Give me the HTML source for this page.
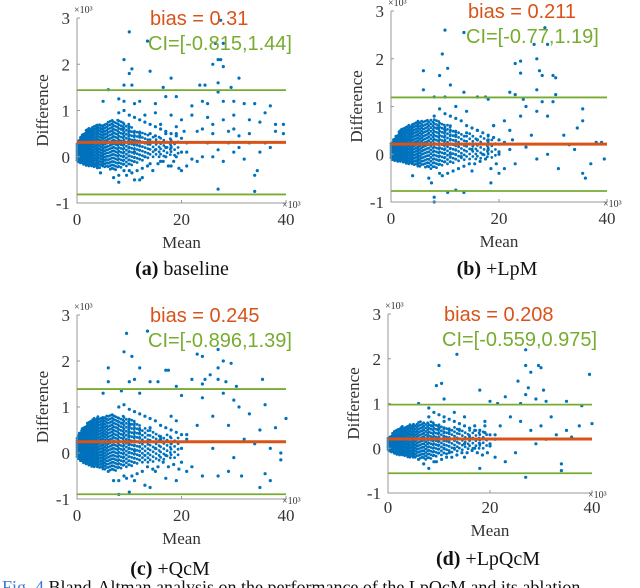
<!DOCTYPE html>
<html><head><meta charset="utf-8">
<style>
html,body{margin:0;padding:0;background:#fff;width:640px;height:588px;overflow:hidden}
svg{display:block}
.tk{font-family:"Liberation Serif",serif;font-size:17px;fill:#333}
.cap{font-family:"Liberation Serif",serif;font-size:20px;fill:#111}
.st{font-family:"Liberation Sans",sans-serif;font-size:20px}
</style></head>
<body>
<svg id="fig" width="640" height="588" viewBox="0 0 640 588" xmlns="http://www.w3.org/2000/svg">
<text x="2" y="593" class="cap" style="font-size:18px"><tspan fill="#3a7bd5">Fig. 4</tspan> Bland-Altman analysis on the performance of the LpQcM and its ablation</text>
</svg>
<script>
// ---- data (values in ×10³) ----
const biasA = 0.31,  ciA = [-0.815, 1.44];
const biasB = 0.211, ciB = [-0.77, 1.19];
const biasC = 0.245, ciC = [-0.896, 1.39];
const biasD = 0.208, ciD = [-0.559, 0.975];
const yTicks = [-1, 0, 1, 2, 3];
const xTicks = [0, 20, 40];
const clusterX = [0,1,2,3,4,5,6,7,8,9,10,11,12,14,16,18,20];
const clusterLoA = [-0.1,-0.15,-0.2,-0.2,-0.25,-0.2,-0.25,-0.3,-0.25,-0.2,-0.2,-0.15,-0.1,0,0,0.05,0];
const clusterHiA = [0.3,0.5,0.6,0.65,0.7,0.7,0.75,0.8,0.8,0.75,0.7,0.6,0.55,0.45,0.45,0.4,0.35];
const clusterLoB = [-0.1,-0.15,-0.15,-0.2,-0.2,-0.25,-0.25,-0.3,-0.3,-0.25,-0.2,-0.2,-0.15,-0.1,-0.1,-0.05,-0.1];
const clusterHiB = [0.25,0.4,0.55,0.6,0.65,0.7,0.7,0.75,0.75,0.7,0.65,0.6,0.5,0.45,0.4,0.4,0.3];
const clusterLoC = [-0.1,-0.2,-0.25,-0.3,-0.3,-0.35,-0.35,-0.4,-0.35,-0.3,-0.3,-0.25,-0.2,-0.2,-0.15,-0.1,-0.1];
const clusterHiC = [0.35,0.55,0.65,0.75,0.8,0.8,0.85,0.85,0.8,0.8,0.75,0.7,0.6,0.5,0.45,0.4,0.35];
const clusterLoD = [-0.05,-0.1,-0.15,-0.15,-0.2,-0.2,-0.2,-0.25,-0.25,-0.2,-0.15,-0.15,-0.1,-0.05,0,0,0];
const clusterHiD = [0.25,0.35,0.45,0.5,0.55,0.55,0.6,0.6,0.6,0.6,0.55,0.5,0.5,0.45,0.4,0.4,0.35];
const midMean = [8,9,10,11,12,13,14,15,16,17,18,19,20,21,9.5,10.5,11.5,12.5,13.5,14.5,15.5,16.5,17.5,18.5,19.5,8.5,10,12,14,16,18,20,11,13,15,17,19,7,9,21];
const midDiffA = [0.95,1.0,0.9,0.85,0.8,0.75,0.7,0.65,0.6,0.55,0.5,0.45,0.4,0.3,-0.4,-0.35,-0.3,-0.25,-0.2,-0.3,-0.15,-0.1,-0.2,-0.1,-0.25,0.6,0.55,0.45,0.5,0.3,0.2,0.1,0.1,0.0,0.15,0.0,0.65,-0.45,-0.3,-0.2];
const midDiffB = [0.8,0.95,0.85,0.8,0.75,0.7,0.6,0.55,0.5,0.45,0.4,0.35,0.3,0.25,-0.45,-0.4,-0.35,-0.3,-0.25,-0.2,-0.2,-0.15,-0.1,-0.3,-0.2,0.55,0.5,0.4,0.45,0.3,0.1,0.05,0.0,-0.05,0.1,0.0,0.6,-0.5,-0.4,-0.3];
const midDiffC = [1.0,1.05,0.95,0.9,0.85,0.8,0.75,0.7,0.6,0.55,0.5,0.45,0.4,0.3,-0.55,-0.5,-0.45,-0.4,-0.3,-0.35,-0.3,-0.2,-0.3,-0.25,-0.35,0.65,0.6,0.5,0.55,0.35,0.2,0.1,0.05,-0.05,0.1,-0.05,0.7,-0.6,-0.5,-0.4];
const midDiffD = [0.7,0.8,0.75,0.7,0.65,0.6,0.55,0.5,0.45,0.4,0.4,0.35,0.3,0.2,-0.3,-0.25,-0.2,-0.2,-0.15,-0.1,-0.1,-0.05,-0.1,-0.15,-0.1,0.5,0.45,0.4,0.4,0.25,0.1,0.05,0.0,0.0,0.1,0.0,0.5,-0.35,-0.3,-0.2];
const meanA = [10,13.5,9,10,10.5,14,9,10.5,18,16.5,23.5,24.5,26,27,27.5,28,27,29.5,31,27,26.5,28,27.5,6,5,8,9,11,12,15,17,19,22,24,25,28,30,32,34,37,36,33,35,38,39.5,39.5,38,30,28,25,22,20,18,16,15,13,20.5,24,26,29,31,33,35,37,34,34.5,34,27,30,32,28,26,24,22,20,18,16,14,12,12.5,11,8,8,4.5,10,23,21,19,17,25,27,29,31,33,36,30,26,23,19,17,15,13];
const diffA = [2.7,2.5,2.1,1.8,1.9,1.85,1.55,1.55,1.7,1.5,1.55,1.55,2.0,2.1,2.1,1.95,1.6,1.5,1.7,1.4,2.45,2.45,2.95,1.45,1.2,1.25,1.2,1.15,1.2,1.15,1.3,1.3,1.1,1.2,1.15,1.2,1.2,1.15,1.15,1.1,0.95,0.8,0.75,0.7,0.7,0.5,0.55,0.9,0.8,0.85,0.9,0.8,0.9,0.7,0.95,0.9,0.55,0.6,0.5,0.55,0.45,0.3,0.1,0.2,-0.4,-0.3,-0.75,-0.7,0.1,-0.05,-0.1,0.0,0.0,-0.05,-0.3,-0.2,-0.1,-0.15,-0.5,-0.45,-0.5,-0.55,-0.4,-0.35,-0.3,-0.1,0.1,0.0,0.2,0.3,0.15,0.3,0.2,0.5,0.3,0.6,0.7,0.55,0.5,0.5,0.45,0.3];
const meanB = [10,13.5,9.5,9,10.5,6,23,24,24,27,27.5,28,30,30.5,26.5,28.5,29,6,8,10,11,13.5,16,17.5,18,22,23,24.5,27,28,30.5,30,35.5,34.5,35.5,38,39,39.5,37,36,35.5,31,29,27,25,23,22,20,18.5,15,12,13.5,10.5,8,8,7.5,4,19,21,22,24,25,27,29,26,32,33,34,18,16,14,12,20,22.5];
const diffB = [2.6,2.55,2.1,1.65,1.8,1.75,1.9,1.95,1.7,2.0,1.75,1.65,1.65,1.6,2.3,2.65,2.3,1.35,1.2,1.2,1.45,1.3,1.2,1.2,1.15,1.3,1.25,1.15,1.35,1.1,1.25,1.1,0.95,0.55,0.7,0.25,0.25,-0.1,-0.2,-0.5,-0.4,-0.3,0.0,-0.1,0.15,-0.2,0.1,-0.4,-0.6,-0.35,-0.75,-0.8,-0.8,-1.0,-0.9,-0.6,-0.45,0.6,0.7,0.5,0.8,1.0,0.9,0.8,0.4,0.4,0.2,0.1,0.3,0.5,0.9,1.0,0.0,0.3];
const meanC = [9.5,13.5,9,10.5,6,12,17,17.5,23,24,27,28,29.5,27,24.5,22,24,25.5,27,28.5,30.5,35.5,6,10,11,14,15.5,19,5,8.5,12,20,24,28,30,31,36,33,40,38,35,37,39,39,36,37,35,31.5,29,27,24,22,19,17,15,14,13,10,8,8,6,11,21,23,26,29,32,34,30,26,18,16,20];
const diffC = [2.6,2.65,2.2,2.1,1.85,1.85,1.8,1.8,2.15,2.1,2.25,2.0,1.95,1.85,1.6,1.6,1.5,1.7,1.6,1.55,1.45,1.6,1.55,1.55,1.6,1.55,1.55,1.45,1.3,1.35,1.3,1.25,1.2,1.3,1.15,1.0,1.05,0.85,0.75,0.55,0.5,0.1,0.0,-0.15,-0.45,-0.6,-0.75,-0.5,-0.4,-0.5,-0.5,-0.3,-0.6,-0.55,-0.4,-0.75,-0.7,-0.85,-0.9,-0.6,-0.4,-0.6,0.4,0.6,0.8,0.6,0.3,0.2,-0.1,0.1,0.8,0.3,-0.2];
const meanD = [13.5,10,9.5,10.5,18,11,20,21.5,23,27,27,28,29.5,30,27.5,27,26,25.5,30.5,29,31,35,38,39.5,40,37.5,35,36,33,34,34,27,25,23,20,18,15,12,8,6,17,19,22,24,26,28,30,32,31,29,21,15,13,11,6,8];
const diffD = [2.1,1.85,1.4,1.45,1.3,1.1,1.05,1.0,1.15,2.2,1.85,1.7,1.85,1.8,1.35,1.2,1.0,1.5,1.3,1.1,1.05,1.05,0.95,1.65,0.55,0.5,0.4,0.25,0.3,-0.35,-0.5,-0.65,-0.1,-0.3,0.1,-0.45,-0.2,-0.1,-0.45,-0.25,0.5,0.6,0.5,0.7,0.6,0.4,0.5,0.7,0.2,0.1,0.3,0.7,0.8,0.6,1.0,0.9];

const NS='http://www.w3.org/2000/svg';
const svg=document.getElementById('fig');
function el(tag,attrs,parent){const e=document.createElementNS(NS,tag);for(const k in attrs)e.setAttribute(k,attrs[k]);(parent||svg).appendChild(e);return e;}

function panel(id,g,mean,diff,midD,cLo,cHi,bias,ci,cap1,cap2){
  const grp=el('g',{});
  
  
  const sx=v=>g.x0+v/40*(g.x1-g.x0);
  const sy=v=>g.y3+(3-v)/4*(g.ym1-g.y3);
  const cg=el('g',{fill:'#0072BD'},grp);
  
  
  for(let i=0;i<clusterX.length-1;i++){
    const xs=0.22+0.025*clusterX[i], ys=0.05+0.004*clusterX[i];
    let row=0;
    for(let x=clusterX[i];x<clusterX[i+1];x+=xs){
      const t=(x-clusterX[i])/(clusterX[i+1]-clusterX[i]);
      const lo=cLo[i]+t*(cLo[i+1]-cLo[i]), hi=cHi[i]+t*(cHi[i+1]-cHi[i]);
      row++;
      for(let y=lo+(row%2)*ys/2;y<=hi;y+=ys){el('circle',{cx:sx(x).toFixed(1),cy:sy(y).toFixed(1),r:1.4},cg);}
    }
  }
  const pg=el('g',{fill:'#0072BD'},grp);
  
  
  for(let i=0;i<mean.length;i++){
    const c=el('circle',{cx:sx(mean[i]).toFixed(1),cy:sy(diff[i]).toFixed(1),r:1.6},pg);
    
    
  }
  for(let i=0;i<midMean.length;i++){
    const c=el('circle',{cx:sx(midMean[i]).toFixed(1),cy:sy(midD[i]).toFixed(1),r:1.6},pg);
    
    
  }
  const ax=el('path',{d:`M${g.x0},${g.y3} V${g.ym1} H${g.x1}`,stroke:'#999',fill:'none','stroke-width':1},grp);
  
  
  xTicks.forEach(v=>{
    el('line',{x1:sx(v),x2:sx(v),y1:g.ym1,y2:g.ym1-3,stroke:'#999'},grp);
    const t=el('text',{x:sx(v),y:g.ym1+g.xl,'text-anchor':'middle',class:'tk'},grp);t.textContent=v;
    
    
  });
  yTicks.forEach(v=>{
    el('line',{x1:g.x0,x2:g.x0+3,y1:sy(v),y2:sy(v),stroke:'#999'},grp);
    const t=el('text',{x:g.x0-7,y:sy(v)+6,'text-anchor':'end',class:'tk'},grp);t.textContent=v;
    
    
  });
  const e1=el('text',{x:g.x0-3,y:g.y3-5,class:'tk',style:'font-size:10px'},grp);e1.textContent='×10³';
  
  
  const e2=el('text',{x:g.x1-4,y:g.ym1+5,class:'tk',style:'font-size:10px'},grp);e2.textContent='×10³';
  
  
  ci.forEach((v,k)=>{const l=el('line',{x1:g.x0,x2:g.x1,y1:sy(v),y2:sy(v),stroke:'#77AC30','stroke-width':1.8},grp);
    
    });
  const bl=el('line',{x1:g.x0,x2:g.x1,y1:sy(bias),y2:sy(bias),stroke:'#D95319','stroke-width':3},grp);
  
  
  const bt=el('text',{x:g.x0+g.tx,y:g.y3+7,class:'st',fill:'#D95319'},grp);bt.textContent='bias = '+bias;
  
  
  const ct=el('text',{x:g.x0+g.tx-2,y:g.y3+32,class:'st',fill:'#77AC30'},grp);ct.textContent='CI=['+ci[0]+','+ci[1]+']';
  
  
  const yt=el('text',{x:0,y:0,class:'tk','text-anchor':'middle',transform:`translate(${g.x0-29},${(g.y3+g.ym1)/2}) rotate(-90)`},grp);yt.textContent='Difference';
  
  
  const xt=el('text',{x:(g.x0+g.x1)/2,y:g.ym1+g.xl+23,'text-anchor':'middle',class:'tk'},grp);xt.textContent='Mean';
  
  
  const cp=el('text',{x:g.cx,y:g.cy,'text-anchor':'middle',class:'cap'},grp);
  const b=el('tspan',{'font-weight':'bold'},cp);b.textContent=cap1;
  const s=el('tspan',{},cp);s.textContent=' '+cap2;
  
  
}
panel('a',{x0:77,x1:286,y3:18,ym1:203,xl:22,tx:73,cx:182,cy:275},meanA,diffA,midDiffA,clusterLoA,clusterHiA,biasA,ciA,'(a)','baseline');
panel('b',{x0:391,x1:607,y3:11,ym1:202,xl:22,tx:77,cx:497,cy:275},meanB,diffB,midDiffB,clusterLoB,clusterHiB,biasB,ciB,'(b)','+LpM');
panel('c',{x0:77,x1:286,y3:315,ym1:499,xl:22,tx:73,cx:170,cy:575},meanC,diffC,midDiffC,clusterLoC,clusterHiC,biasC,ciC,'(c)','+QcM');
panel('d',{x0:388,x1:592,y3:314,ym1:493,xl:20,tx:56,cx:488,cy:565},meanD,diffD,midDiffD,clusterLoD,clusterHiD,biasD,ciD,'(d)','+LpQcM');
</script>
</body></html>
